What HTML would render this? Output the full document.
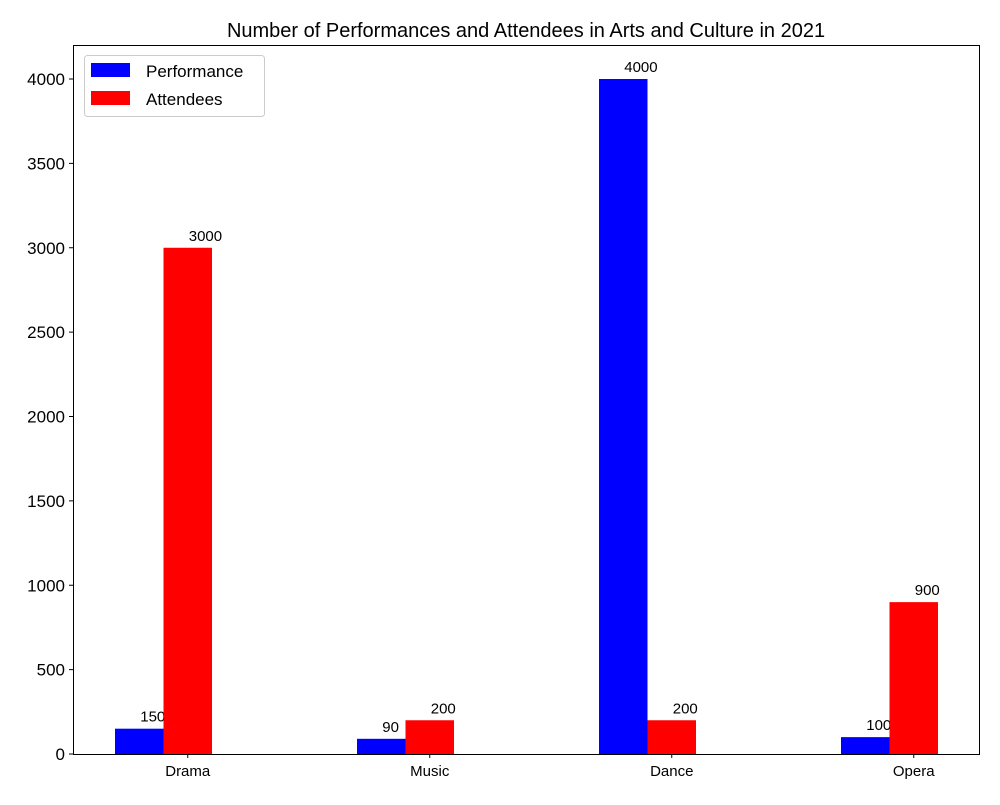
<!DOCTYPE html>
<html><head><meta charset="utf-8"><style>
body{margin:0;background:#fff;}
svg text{font-family:"Liberation Sans",Arial,sans-serif;}
</style></head><body>
<svg id="chart" width="1000" height="800">
<rect width="1000" height="800" fill="#fff"/>
<text x="526" y="37" font-size="20" text-anchor="middle">Number of Performances and Attendees in Arts and Culture in 2021</text>
<g id="bars"></g>
<g id="yticks"></g>
<g id="xticks"></g>
<rect x="73.5" y="45.5" width="906" height="709" fill="none" stroke="#000" stroke-width="1"/>
<g>
<rect x="84.5" y="55.5" width="180" height="61" rx="3" fill="#fff" stroke="#ccc"/>
<rect x="91" y="63" width="39" height="14" fill="#0000ff"/>
<text x="146" y="77" font-size="17">Performance</text>
<rect x="91" y="91" width="39" height="14" fill="#ff0000"/>
<text x="146" y="105" font-size="17">Attendees</text>
</g>
</svg>
<script>
const categories = ["Drama","Music","Dance","Opera"];
const performances = [150, 90, 4000, 100];
const attendees = [3000, 200, 200, 900];
const yTicks = [0,500,1000,1500,2000,2500,3000,3500,4000];
const NS="http://www.w3.org/2000/svg";
const yMax=4201.5, plotTop=45, plotBottom=754;
function y(v){return plotBottom-(v/yMax)*(plotBottom-plotTop);}
function cx(i){return 163.5+242*i;}
const bw=48.5;
function mk(tag,attrs,parent){const e=document.createElementNS(NS,tag);for(const k in attrs)e.setAttribute(k,attrs[k]);parent.appendChild(e);return e;}
const gb=document.getElementById('bars'), gy=document.getElementById('yticks'), gx=document.getElementById('xticks');
categories.forEach((c,i)=>{
  [[performances,'#0000ff',cx(i)-bw,'performance'],[attendees,'#ff0000',cx(i),'attendees']].forEach(([arr,col,x0,nm])=>{
    const v=arr[i];
    const r=mk('rect',{x:x0,y:y(v),width:bw,height:plotBottom-y(v),fill:col},gb);
    
    
    const t=mk('text',{x:x0+bw/2+1,y:y(v)-7,'font-size':15},gb);
    t.textContent=v;
    
    
  });
  const tx=cx(i)+bw/2;
  mk('line',{x1:tx,x2:tx,y1:plotBottom,y2:plotBottom+4,stroke:'#000'},gx);
  const t=mk('text',{x:tx,y:776,'font-size':15,'text-anchor':'middle'},gx);
  t.textContent=c;
  
  
});
yTicks.forEach(v=>{
  const yy=y(v);
  mk('line',{x1:69,x2:73,y1:yy,y2:yy,stroke:'#000'},gy);
  const t=mk('text',{x:65,y:yy+6,'font-size':17,'text-anchor':'end'},gy);
  t.textContent=v;
  
  
});
</script>
</body></html>
